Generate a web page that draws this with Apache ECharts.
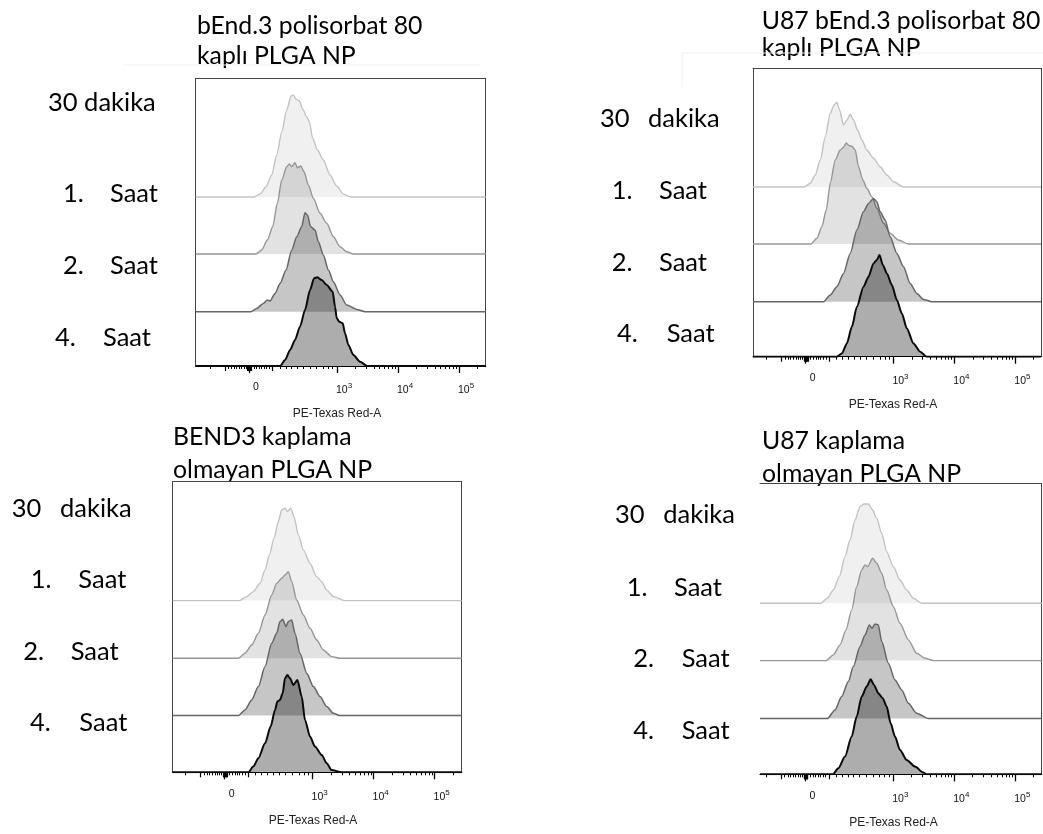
<!DOCTYPE html>
<html><head><meta charset="utf-8">
<script src="https://cdn.jsdelivr.net/npm/echarts@6/dist/echarts.min.js"></script>
<style>html,body{margin:0;padding:0;background:#fff}#c{width:1043px;height:834px}</style>
</head><body><div id="c"></div><script>
// ---------- DATA (x in display decades of the PE-Texas Red-A logicle axis, y = relative count) ----------
const tickValues = [1.557, 3, 4, 5];
const tickBase = ['0', '10', '10', '10'];
const tickSup = ['', '3', '4', '5'];
const mediumTicks = [1.164, 1.945, 1.535, 1.545, 1.555, 1.565, 1.575, 1.585, 1.595];
const minorTicks = [0.918, 1.219, 1.273, 1.311, 1.355, 1.399, 1.437, 1.475, 1.508, 1.639, 1.683, 1.727, 1.765, 1.803,
  1.847, 1.891, 2.066, 2.164, 2.257, 2.350, 2.448, 2.557, 2.667, 2.776, 2.858, 2.929,
  3.301, 3.477, 3.602, 3.699, 3.778, 3.845, 3.903, 3.954, 4.301, 4.477, 4.602, 4.699, 4.778, 4.845, 4.903, 4.954, 5.301];
const axisTitle = 'PE-Texas Red-A';

const timeNums = ['30', '1.', '2.', '4.'];
const timeWords = ['dakika', 'Saat', 'Saat', 'Saat'];
const firstLabelTopLeft = '30 dakika';

const titleTopLeft = ['bEnd.3 polisorbat 80', 'kaplı PLGA NP'];
const titleTopRight = ['U87 bEnd.3 polisorbat 80', 'kaplı PLGA NP'];
const titleBottomLeft = ['BEND3 kaplama', 'olmayan PLGA NP'];
const titleBottomRight = ['U87 kaplama', 'olmayan PLGA NP'];

// bEnd.3 polisorbat 80 kaplı PLGA NP
const bendPs_30dk = [[1.639,0],[1.738,3],[1.836,10.3],[1.929,22],[2.011,42],[2.093,65],[2.175,87],[2.246,101],[2.284,102],[2.328,97.7],[2.383,96.3],[2.437,87.7],[2.503,80.3],[2.546,75.3],[2.601,58.7],[2.678,47],[2.776,37],[2.885,22],[2.995,11],[3.104,3],[3.224,0]];
const bendPs_1s = [[1.672,0],[1.765,4],[1.858,14],[1.945,27.3],[2.022,50.7],[2.093,74],[2.175,87.3],[2.219,90],[2.257,87.3],[2.311,91.3],[2.350,86.3],[2.404,88],[2.459,82.3],[2.530,69],[2.612,55.7],[2.721,40.7],[2.831,30.7],[2.940,17.3],[3.049,7.3],[3.158,2.3],[3.268,0]];
const bendPs_2s = [[1.585,0],[1.683,3.3],[1.792,8.3],[1.858,11.7],[1.902,10.7],[1.984,18.3],[2.066,28.3],[2.164,41.7],[2.257,61.7],[2.339,75],[2.421,85],[2.475,99],[2.514,96.7],[2.568,85],[2.639,81.7],[2.694,70],[2.776,56.7],[2.858,41.7],[2.940,30],[3.049,16.7],[3.158,6.7],[3.322,2.3],[3.459,0]];
const bendPs_4s = [[2.066,0],[2.148,6],[2.230,16],[2.311,26],[2.393,39.3],[2.475,56],[2.557,76],[2.623,87.7],[2.678,88.7],[2.749,86],[2.831,81],[2.929,74.3],[2.967,59.3],[2.995,47.7],[3.038,44.3],[3.093,42.7],[3.131,32.7],[3.186,21],[3.268,11],[3.377,4.3],[3.497,0]];

// U87 bEnd.3 polisorbat 80 kaplı PLGA NP
const u87Ps_30dk = [[1.536,0],[1.634,3.7],[1.716,12],[1.798,27],[1.880,50.3],[1.962,73.7],[2.027,82],[2.071,84.7],[2.115,77],[2.180,62],[2.235,67],[2.290,72.7],[2.344,67],[2.410,57],[2.481,47],[2.563,37],[2.672,28.7],[2.781,20.3],[2.891,12],[3.000,5.3],[3.164,0]];
const u87Ps_1s = [[1.645,0],[1.743,5.7],[1.825,17.3],[1.896,34],[1.962,60.7],[2.044,84],[2.126,94],[2.180,96.7],[2.224,101],[2.262,98.7],[2.317,97.7],[2.372,94],[2.426,77.3],[2.497,64],[2.563,55.7],[2.645,47.3],[2.727,35.7],[2.836,20.7],[2.945,10.7],[3.082,4],[3.246,0]];
const u87Ps_2s = [[1.852,0],[1.962,6.7],[2.071,15],[2.180,28.3],[2.290,48.3],[2.399,71.7],[2.508,90],[2.590,98.3],[2.672,103.3],[2.727,100],[2.781,90],[2.863,81.7],[2.945,65],[3.055,48.3],[3.164,35],[3.273,18.3],[3.383,8.3],[3.492,2.3],[3.628,0]];
const u87Ps_4s = [[2.071,0],[2.153,3.3],[2.235,13.3],[2.317,30],[2.399,50],[2.508,70],[2.590,80],[2.672,93.3],[2.727,96.7],[2.770,101.7],[2.825,91.7],[2.891,83.3],[2.973,71.7],[3.055,56.7],[3.137,43.3],[3.219,28.3],[3.328,13.3],[3.437,5],[3.546,0]];

// BEND3 kaplama olmayan PLGA NP
const bendNc_30dk = [[1.798,0],[1.918,4],[2.027,9],[2.137,17.3],[2.219,30.7],[2.290,45.7],[2.366,62.3],[2.437,79],[2.492,90.7],[2.546,92.3],[2.585,89],[2.639,92.3],[2.694,84],[2.765,65.7],[2.847,50.7],[2.956,37.3],[3.066,24],[3.148,19],[3.230,10.7],[3.339,4],[3.530,0]];
const bendNc_1s = [[1.781,0],[1.891,5],[2.000,13.3],[2.109,25],[2.219,43.3],[2.328,63.3],[2.410,75],[2.492,80],[2.546,83.3],[2.601,86.7],[2.656,76.7],[2.738,58.3],[2.847,43.3],[2.956,30],[3.066,18.3],[3.175,8.3],[3.311,1.7],[3.448,0]];
const bendNc_2s = [[1.781,0],[1.891,5.7],[2.000,15.7],[2.109,29],[2.219,49],[2.328,72.3],[2.410,82.3],[2.464,94],[2.508,96.3],[2.563,89],[2.601,94],[2.656,95.7],[2.710,82.3],[2.792,62.3],[2.902,42.3],[3.011,29],[3.120,19],[3.230,9],[3.339,2.3],[3.448,0]];
const bendNc_4s = [[1.945,0],[2.027,5.7],[2.109,14],[2.219,29],[2.311,45.7],[2.383,62.3],[2.421,70.7],[2.464,72.3],[2.508,79],[2.546,94],[2.585,97.3],[2.628,94],[2.683,87.3],[2.749,92.3],[2.820,75.7],[2.874,52.3],[2.956,35.7],[3.038,25.7],[3.148,17.3],[3.230,9],[3.311,2.3],[3.475,0]];

// U87 kaplama olmayan PLGA NP
const u87Nc_30dk = [[1.809,0],[1.918,5],[2.016,13.3],[2.115,26.7],[2.208,46.7],[2.290,63.3],[2.372,83.3],[2.454,96.7],[2.519,99.3],[2.590,99.3],[2.661,93.3],[2.727,85],[2.809,70],[2.891,51.7],[3.000,36.7],[3.109,23.3],[3.219,13.3],[3.328,5],[3.464,0]];
const u87Nc_1s = [[1.896,0],[2.016,5.7],[2.126,15.7],[2.224,30.7],[2.317,50.7],[2.399,74],[2.481,90.7],[2.536,95.7],[2.579,94],[2.661,102.3],[2.727,97.3],[2.809,87.3],[2.891,70.7],[3.000,54],[3.109,37.3],[3.246,20.7],[3.383,7.3],[3.519,2.3],[3.656,0]];
const u87Nc_2s = [[1.918,0],[2.044,8.7],[2.153,22],[2.262,37],[2.344,52],[2.454,72],[2.536,83.7],[2.607,93.7],[2.650,90.3],[2.699,94.7],[2.754,93.7],[2.809,77],[2.918,55.3],[3.027,38.7],[3.137,28.7],[3.246,15.3],[3.383,5.3],[3.574,0]];
const u87Nc_4s = [[2.005,0],[2.098,6],[2.208,17.7],[2.317,37.7],[2.399,57.7],[2.481,77.7],[2.563,87.7],[2.628,95],[2.683,89.3],[2.754,81],[2.825,76],[2.891,67.7],[2.956,51],[3.027,37.7],[3.109,24.3],[3.219,14.3],[3.355,7.7],[3.492,1.7],[3.546,0]];

// ---------- LAYOUT ----------
const panels = [
  { left:195.7, top:78.3, right:485.7, bottom:366, xMin:0.683, xMax:5.437, offsets:[169,112,54.3,0], leftLine:true,
    sets:[bendPs_30dk,bendPs_1s,bendPs_2s,bendPs_4s], title:titleTopLeft, titleX:197, titleBase:[33.3,63.3],
    labels:[[48,null,110],[63,110,201.7],[63,110,273.3],[55,103,345]], axisTitleX:337 },
  { left:753, top:68.3, right:1041, bottom:356.7, xMin:0.694, xMax:5.421, offsets:[169.7,112.7,55,0], leftLine:true,
    sets:[u87Ps_30dk,u87Ps_1s,u87Ps_2s,u87Ps_4s], title:titleTopRight, titleX:761.7, titleBase:[28.3,55],
    labels:[[600,648,126.7],[611.7,659,198],[611.7,659,270],[617,666.7,341.7]], axisTitleX:893 },
  { left:172.7, top:481.7, right:461.7, bottom:772.3, xMin:0.705, xMax:5.443, offsets:[171.7,114,56.7,0], leftLine:true,
    sets:[bendNc_30dk,bendNc_1s,bendNc_2s,bendNc_4s], title:titleBottomLeft, titleX:173, titleBase:[444.7,477.8],
    labels:[[11.7,60,516],[30.7,78.3,587.3],[23.3,70.7,659.3],[30,79.3,730.7]], axisTitleX:313 },
  { left:760, top:483.7, right:1041.7, bottom:774.3, xMin:0.814, xMax:5.432, offsets:[171,113.7,55.7,0], leftLine:false,
    sets:[u87Nc_30dk,u87Nc_1s,u87Nc_2s,u87Nc_4s], title:titleBottomRight, titleX:762, titleBase:[448,481],
    labels:[[615,663.3,522.7],[626.7,674,595],[633.3,681.7,666.7],[633.3,681.7,738.3]], axisTitleX:893.5 }
];
const levelStyles = [
  { line:'#c2c2c2', width:1.4, fill:'rgba(0,0,0,0.085)' },
  { line:'#969696', width:1.4, fill:'rgba(0,0,0,0.16)' },
  { line:'#666666', width:1.5, fill:'rgba(0,0,0,0.32)' },
  { line:'#0a0a0a', width:2, fill:'rgba(0,0,0,0.46)' }
];
const textFont = 'Lato, "Open Sans", sans-serif';
const titleSize = 24.8;
const labelSize = 25.5;
const axisFont = '"Liberation Sans", Arial, sans-serif';

const grids = [], xAxes = [], yAxes = [], series = [], graphics = [];
function txt(x, yBase, s, size) {
  graphics.push({ type:'text', x:x, y:yBase - 0.3 * size, silent:true,
    style:{ text:s, font:'400 ' + size + 'px ' + textFont, fill:'#000', verticalAlign:'middle', align:'left' } });
}
panels.forEach((p, pi) => {
  const H = p.bottom - p.top;
  grids.push({ left:p.left, top:p.top, width:p.right - p.left, height:H, containLabel:false });
  const base = { gridIndex:pi, type:'value', min:p.xMin, max:p.xMax, splitLine:{show:false}, axisLabel:{show:false}, axisTick:{show:false}, axisLine:{show:false} };
  xAxes.push(Object.assign({}, base, {
    position:'bottom',
    axisLine:{ show:true, onZero:false, lineStyle:{ color:'#000', width:1.2 } },
    axisTick:{ show:true, inside:false, length:7, customValues:tickValues, lineStyle:{ color:'#000', width:1.3 } },
    axisLabel:{ show:true, customValues:tickValues, margin:16, padding:[0,0,0,14],
      formatter: v => { let i = 0, d = 1e9; tickValues.forEach((t, k) => { if (Math.abs(t - v) < d) { d = Math.abs(t - v); i = k; } });
        return tickSup[i] ? '{b|' + tickBase[i] + '}{s|' + tickSup[i] + '}' : '{b|' + tickBase[i] + '}'; },
      rich:{ b:{ fontSize:10.5, fontFamily:axisFont, color:'#111' }, s:{ fontSize:8, fontFamily:axisFont, color:'#111', padding:[0,0,9,0] } } }
  }));
  xAxes.push(Object.assign({}, base, { position:'bottom', axisTick:{ show:true, length:5, customValues:mediumTicks, lineStyle:{ color:'#000', width:1.2 } } }));
  xAxes.push(Object.assign({}, base, { position:'bottom', axisTick:{ show:true, length:3, customValues:minorTicks, lineStyle:{ color:'#000', width:1 } } }));
  xAxes.push(Object.assign({}, base, { position:'top', axisLine:{ show:true, onZero:false, lineStyle:{ color:'#444', width:1 } } }));
  const ybase = { gridIndex:pi, type:'value', min:0, max:H, splitLine:{show:false}, axisLabel:{show:false}, axisTick:{show:false} };
  yAxes.push(Object.assign({}, ybase, { position:'left', axisLine:{ show:p.leftLine, onZero:false, lineStyle:{ color:'#444', width:1 } } }));
  yAxes.push(Object.assign({}, ybase, { position:'right', axisLine:{ show:true, onZero:false, lineStyle:{ color:'#444', width:1 } } }));

  p.sets.forEach((set, li) => {
    const off = p.offsets[li], st = levelStyles[li];
    const pts = [[p.xMin, off]].concat(set.map(d => [d[0], off + d[1]])).concat([[p.xMax, off]]);
    series.push({ type:'line', xAxisIndex:pi * 4, yAxisIndex:pi * 2, data:pts, symbol:'none', smooth:0.25, smoothMonotone:'x',
      silent:true, animation:false, clip:true, z:2 + li,
      lineStyle:{ color:st.line, width:st.width }, areaStyle:{ color:st.fill, origin:off } });
  });

  p.title.forEach((t, k) => txt(p.titleX, p.titleBase[k], t, titleSize));
  p.labels.forEach((l, k) => {
    if (l[1] === null) { txt(l[0], l[2], firstLabelTopLeft, labelSize); return; }
    txt(l[0], l[2], timeNums[k], labelSize);
    txt(l[1], l[2], timeWords[k], labelSize);
  });
  graphics.push({ type:'text', x:p.axisTitleX, y:p.bottom + 48, silent:true,
    style:{ text:axisTitle, font:'12px ' + axisFont, fill:'#222', verticalAlign:'middle', align:'center' } });
});
// faint edges of the pasted images
[[123,65,480,65],[682,53,1043,53],[682,53,682,87]].forEach(s => graphics.push({ type:'line', silent:true,
  shape:{ x1:s[0], y1:s[1], x2:s[2], y2:s[3] }, style:{ stroke:'#efefef', lineWidth:1 } }));

const chart = echarts.init(document.getElementById('c'), null, { renderer:'canvas' });
chart.setOption({ animation:false, backgroundColor:'#fff', grid:grids, xAxis:xAxes, yAxis:yAxes, series:series, graphic:graphics });
</script></body></html>
